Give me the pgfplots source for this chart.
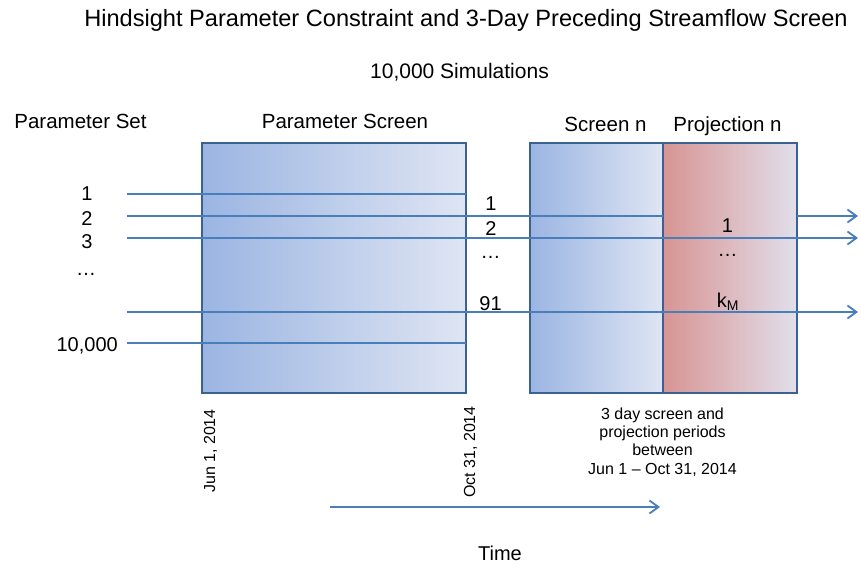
\documentclass[border=0pt]{standalone}
\usepackage{pgfplots}
\pgfplotsset{compat=1.18}
\usepackage{fontspec}
\setmainfont{Liberation Sans}
\usetikzlibrary{arrows.meta}
\definecolor{lineblue}{RGB}{74,126,187}
\definecolor{boxedge}{RGB}{60,96,146}
\definecolor{bL}{RGB}{155,181,226}
\definecolor{bR}{RGB}{223,229,243}
\definecolor{pL}{RGB}{216,148,147}
\definecolor{pM}{RGB}{229,178,178}
\definecolor{pR}{RGB}{225,223,235}
\begin{document}
\begin{tikzpicture}
\begin{axis}[width=861pt,height=566pt,scale only axis,
  xmin=0,xmax=861,ymin=0,ymax=566,y dir=reverse,hide axis,clip=false]
\path (rel axis cs:0,0) rectangle (rel axis cs:1,1);
% boxes
\addplot[draw=boxedge,line width=2.5pt,left color=bL,right color=bR] coordinates {(202,143)(466,143)(466,393)(202,393)} -- cycle;
\addplot[draw=boxedge,line width=2.5pt,left color=bL,right color=bR] coordinates {(530,143)(663,143)(663,393)(530,393)} -- cycle;
\addplot[draw=boxedge,line width=2.5pt,left color=pL,middle color=pM,right color=pR] coordinates {(663,143)(797,143)(797,393)(663,393)} -- cycle;
% parameter lines
\addplot[lineblue,line width=1.8pt] coordinates {(127,194)(466,194)};
\addplot[lineblue,line width=1.8pt] coordinates {(127,216)(663,216)};
\addplot[lineblue,line width=1.8pt,-{Straight Barb[length=9pt,width=13pt]}] coordinates {(797,216)(858,216)};
\addplot[lineblue,line width=1.8pt,-{Straight Barb[length=9pt,width=13pt]}] coordinates {(127,238)(858,238)};
\addplot[lineblue,line width=1.8pt,-{Straight Barb[length=9pt,width=13pt]}] coordinates {(127,312)(858,312)};
\addplot[lineblue,line width=1.8pt] coordinates {(127,343)(466,343)};
% time arrow
\addplot[lineblue,line width=1.8pt,-{Straight Barb[length=9pt,width=13pt]}] coordinates {(330,507)(660,507)};
% texts
\node[anchor=base,inner sep=0] at (axis cs:466,26) {\fontsize{23.6}{28}\selectfont Hindsight Parameter Constraint and 3-Day Preceding Streamflow Screen};
\node[anchor=base,inner sep=0] at (axis cs:459.5,78.5) {\fontsize{21}{25}\selectfont 10,000 Simulations};
\node[anchor=base,inner sep=0] at (axis cs:80.5,128.3) {\fontsize{20.5}{24}\selectfont Parameter Set};
\node[anchor=base,inner sep=0] at (axis cs:345,128.3) {\fontsize{20.5}{24}\selectfont Parameter Screen};
\node[anchor=base,inner sep=0] at (axis cs:605.5,131.7) {\fontsize{20.5}{24}\selectfont Screen n};
\node[anchor=base,inner sep=0] at (axis cs:727.5,131.7) {\fontsize{20.5}{24}\selectfont Projection n};
% left numbers
\node[anchor=base,inner sep=0] at (axis cs:87,200) {\fontsize{20}{24}\selectfont 1};
\node[anchor=base,inner sep=0] at (axis cs:87,225) {\fontsize{20}{24}\selectfont 2};
\node[anchor=base,inner sep=0] at (axis cs:87,248) {\fontsize{20}{24}\selectfont 3};
\node[anchor=base,inner sep=0] at (axis cs:86,275) {\fontsize{20}{24}\selectfont \dots};
\node[anchor=base east,inner sep=0] at (axis cs:118,351) {\fontsize{20}{24}\selectfont 10,000};
% middle numbers
\node[anchor=base,inner sep=0] at (axis cs:491,210) {\fontsize{20}{24}\selectfont 1};
\node[anchor=base,inner sep=0] at (axis cs:491,235) {\fontsize{20}{24}\selectfont 2};
\node[anchor=base,inner sep=0] at (axis cs:490.5,258) {\fontsize{20}{24}\selectfont \dots};
\node[anchor=base,inner sep=0] at (axis cs:490.5,310) {\fontsize{20}{24}\selectfont 91};
% projection numbers
\node[anchor=base,inner sep=0] at (axis cs:727.5,232) {\fontsize{20}{24}\selectfont 1};
\node[anchor=base,inner sep=0] at (axis cs:727.5,256) {\fontsize{20}{24}\selectfont \dots};
\node[anchor=base,inner sep=0] at (axis cs:728,307) {\fontsize{20}{24}\selectfont k\textsubscript{M}};
% dates
\node[anchor=base,inner sep=0,rotate=90] at (axis cs:215,451) {\fontsize{16}{19}\selectfont Jun 1, 2014};
\node[anchor=base,inner sep=0,rotate=90] at (axis cs:475,452) {\fontsize{16}{19}\selectfont Oct 31, 2014};
% note
\node[anchor=base,inner sep=0] at (axis cs:662.5,419) {\fontsize{16}{19}\selectfont 3 day screen and};
\node[anchor=base,inner sep=0] at (axis cs:662.5,437.3) {\fontsize{16}{19}\selectfont projection periods};
\node[anchor=base,inner sep=0] at (axis cs:662.5,455.7) {\fontsize{16}{19}\selectfont between};
\node[anchor=base,inner sep=0] at (axis cs:662.5,474) {\fontsize{16}{19}\selectfont Jun 1 – Oct 31, 2014};
\node[anchor=base,inner sep=0] at (axis cs:500,560) {\fontsize{20}{24}\selectfont Time};
\end{axis}
\end{tikzpicture}
\end{document}
